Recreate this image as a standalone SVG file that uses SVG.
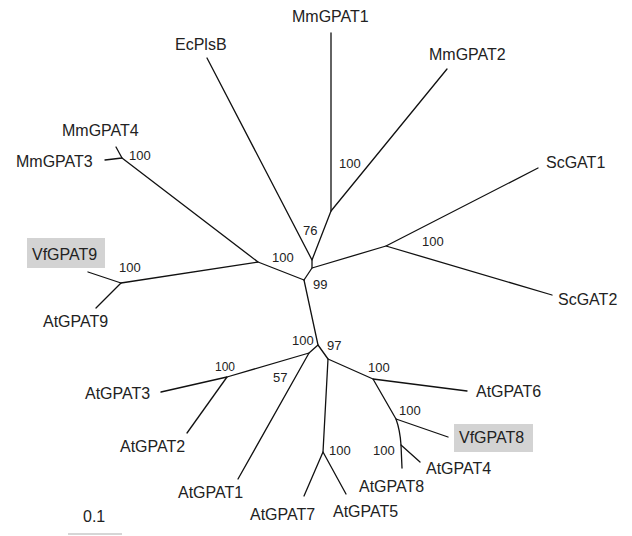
<svg xmlns="http://www.w3.org/2000/svg" width="632" height="536" viewBox="0 0 632 536">
<style>
.e{fill:none;stroke:#111;stroke-width:1.3;stroke-linejoin:round;stroke-linecap:round}
.t{font-family:"Liberation Sans",Arial,sans-serif;font-size:16px;fill:#222}
.b{font-family:"Liberation Sans",Arial,sans-serif;font-size:13px;fill:#222}
.hl{fill:#d3d3d3}
</style>
<rect width="632" height="536" fill="#fff"/>
<g id="connectors">
<polyline class="e" points="116,147 122,158 105,160"/>
<polyline class="e" points="122,158 258,262 304,280"/>
<polyline class="e" points="258,262 121,283 88,272"/>
<polyline class="e" points="121,283 96,308"/>
<polyline class="e" points="304,280 312,268 312,260 207,58"/>
<polyline class="e" points="312,260 331,211 331,33"/>
<polyline class="e" points="331,211 447,69"/>
<polyline class="e" points="312,268 386,246 538,168"/>
<polyline class="e" points="386,246 552,295"/>
<polyline class="e" points="304,280 318,345 309,353 227,377 161,392"/>
<polyline class="e" points="227,377 187,433"/>
<polyline class="e" points="309,353 238,479"/>
<polyline class="e" points="318,345 328,359 323,452 304,496"/>
<polyline class="e" points="323,452 346,494"/>
<polyline class="e" points="328,359 373,379 467,391"/>
<polyline class="e" points="373,379 396,419 448,437"/>
<path class="e" d="M396,419 Q400,430 401,445 L402,468"/>
<polyline class="e" points="401,445 420,462"/>
<line x1="68" y1="534" x2="122" y2="534" stroke="#c8c8c8" stroke-width="1.5"/>
</g>
<g id="MmGPAT1"><text class="t" x="292" y="22">MmGPAT1</text></g>
<g id="EcPlsB"><text class="t" x="175" y="50">EcPlsB</text></g>
<g id="MmGPAT2"><text class="t" x="429" y="60">MmGPAT2</text></g>
<g id="MmGPAT4"><text class="t" x="62" y="136">MmGPAT4</text></g>
<g id="MmGPAT3"><text class="t" x="16" y="167">MmGPAT3</text></g>
<g id="ScGAT1"><text class="t" x="546" y="168">ScGAT1</text></g>
<g id="VfGPAT9"><rect class="hl" x="27" y="238" width="78" height="30"/><text class="t" x="32" y="260">VfGPAT9</text></g>
<g id="ScGAT2"><text class="t" x="558" y="305">ScGAT2</text></g>
<g id="AtGPAT9"><text class="t" x="43" y="327">AtGPAT9</text></g>
<g id="AtGPAT3"><text class="t" x="85" y="399">AtGPAT3</text></g>
<g id="AtGPAT6"><text class="t" x="476" y="397">AtGPAT6</text></g>
<g id="VfGPAT8"><rect class="hl" x="454" y="424" width="79" height="28"/><text class="t" x="459" y="443">VfGPAT8</text></g>
<g id="AtGPAT2"><text class="t" x="120" y="452">AtGPAT2</text></g>
<g id="AtGPAT4"><text class="t" x="426" y="474">AtGPAT4</text></g>
<g id="AtGPAT8"><text class="t" x="359" y="492">AtGPAT8</text></g>
<g id="AtGPAT1"><text class="t" x="178" y="498">AtGPAT1</text></g>
<g id="AtGPAT5"><text class="t" x="333" y="517">AtGPAT5</text></g>
<g id="AtGPAT7"><text class="t" x="250" y="520">AtGPAT7</text></g>
<g id="scale"><text class="t" x="83" y="522">0.1</text></g>
<g id="bootstrap">
<text class="b" x="129" y="160">100</text>
<text class="b" x="272" y="262">100</text>
<text class="b" x="119" y="272">100</text>
<text class="b" x="303" y="235">76</text>
<text class="b" x="339" y="168">100</text>
<text class="b" x="313" y="289">99</text>
<text class="b" x="422" y="246">100</text>
<text class="b" x="292" y="345">100</text>
<text class="b" x="273" y="382">57</text>
<text class="b" x="215" y="371" style="font-size:12px">100</text>
<text class="b" x="327" y="350">97</text>
<text class="b" x="329" y="455">100</text>
<text class="b" x="368" y="372">100</text>
<text class="b" x="399" y="415">100</text>
<text class="b" x="373" y="455">100</text>
</g>
</svg>
